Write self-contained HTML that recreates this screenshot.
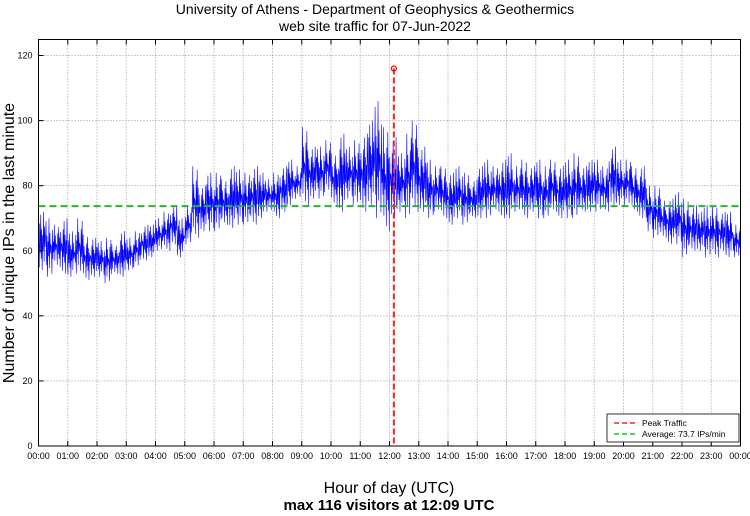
<!DOCTYPE html>
<html><head><meta charset="utf-8"><style>
body{margin:0;background:#fff;}
svg text{font-family:"Liberation Sans",sans-serif;}
</style></head><body>
<svg id="chart" width="750" height="511" xmlns="http://www.w3.org/2000/svg">
<text x="375" y="14" text-anchor="middle" font-size="14">University of Athens - Department of Geophysics &amp; Geothermics</text>
<text x="375" y="31" text-anchor="middle" font-size="14">web site traffic for 07-Jun-2022</text>
<text transform="translate(14,243) rotate(-90)" text-anchor="middle" font-size="16">Number of unique IPs in the last minute</text>
<text x="389" y="493" text-anchor="middle" font-size="16">Hour of day (UTC)</text>
<text x="389" y="510" text-anchor="middle" font-size="15" font-weight="bold">max 116 visitors at 12:09 UTC</text>
<g id="grid"></g><g id="series"></g><g id="overlay"></g><g id="axes"></g>
</svg>
<script>
const yTicks=[0,20,40,60,80,100,120];
const hourLabels=["00:00","01:00","02:00","03:00","04:00","05:00","06:00","07:00","08:00","09:00","10:00","11:00","12:00","13:00","14:00","15:00","16:00","17:00","18:00","19:00","20:00","21:00","22:00","23:00","00:00"];
const lowVals=[54,52,55,53, 52,53,51,52, 52,50,53,52, 54,55,57,58, 60,60,62,58, 62,64,66,66, 66,68,67,68, 68,68,70,72, 70,72,74,76, 74,76,76,78, 74,72,76,74, 72,74,70,66, 70,72,70,72, 72,70,72,70, 68,70,68,70, 70,70,72,70, 70,72,70,72, 70,70,72,70, 70,70,72,72, 72,72,74,74, 74,72,70,66, 64,64,62,62, 58,60,60,58, 58,60,58,58];
const highVals=[72,70,68,70, 66,70,65,64, 63,64,62,66, 64,66,68,68, 70,72,74,70, 74,86,80,84, 84,82,86,85, 84,86,84,82, 84,86,88,86, 98,92,92,94, 90,96,92,94, 96,100,106,98, 95,90,96,100, 92,88,86,86, 84,86,84,82, 86,88,86,88, 90,86,88,86, 88,86,88,86, 88,90,86,88, 88,86,92,88, 88,86,86,80, 80,76,76,78, 76,74,72,74, 74,72,72,68];
const stepMin=15;
const peakMinute=729, peakValue=116, avgValue=73.7;
const L=38.5,R=740.5,T=39.5,B=446;
const x=m=>L+m/1440*(R-L);
const y=v=>B-v*(446-55.5)/120;
const NS="http://www.w3.org/2000/svg";
function mk(tag,attrs,parent){const e=document.createElementNS(NS,tag);for(const k in attrs)e.setAttribute(k,attrs[k]);document.getElementById(parent).appendChild(e);return e;}
yTicks.forEach(v=>{
 if(v>0){const g=mk('line',{x1:L,x2:R,y1:y(v),y2:y(v),stroke:'#999','stroke-dasharray':'1,2','stroke-width':1},'grid');
 
 }
 const t=mk('text',{x:L-6,y:y(v)+3,'text-anchor':'end','font-size':9},'axes');t.textContent=v;
 
 
 mk('line',{x1:L,x2:L+5,y1:y(v),y2:y(v),stroke:'#000'},'axes');
});
hourLabels.forEach((s,i)=>{
 const xx=x(i*60);
 if(i>0&&i<24){const g=mk('line',{x1:xx,x2:xx,y1:T,y2:B,stroke:'#999','stroke-dasharray':'1,2'},'grid');
 
 }
 mk('line',{x1:xx,x2:xx,y1:B,y2:B-5,stroke:'#000'},'axes');
 mk('line',{x1:xx,x2:xx,y1:T,y2:T+5,stroke:'#000'},'axes');
 const t=mk('text',{x:xx,y:459,'text-anchor':'middle','font-size':9},'axes');t.textContent=s;
 
 
});
// fixed depth pattern (fraction of the low-high range) for sub-minute oscillation within each interval
const depth=[0.5,0.05,0.8,0.3,0.95,0.2,0.7,0.0,0.6,0.35,1.0,0.15,0.75,0.4,0.55];
let pts=[];
lowVals.forEach((lo,i)=>{
 const hi=highVals[i],m0=i*stepMin;
 for(let k=0;k<stepMin;k++){
  const d=depth[(k+i*4)%depth.length];
  pts.push([x(m0+k+0.5),y(lo+(hi-lo)*d)]);
 }
});
const line=mk('polyline',{points:pts.map(p=>p.join(',')).join(' '),fill:'none',stroke:'#0000ff','stroke-width':0.6},'series');


const avg=mk('line',{x1:L,x2:R,y1:y(avgValue),y2:y(avgValue),stroke:'#22bb22','stroke-width':2,'stroke-dasharray':'7,4'},'overlay');


const pk=mk('line',{x1:x(peakMinute),x2:x(peakMinute),y1:y(peakValue),y2:B,stroke:'#ff2222','stroke-width':2,'stroke-dasharray':'6,3'},'overlay');


const pc=mk('circle',{cx:x(peakMinute),cy:y(peakValue),r:2.5,fill:'none',stroke:'#ff0000','stroke-width':1.2},'overlay');


const fr=mk('rect',{x:L,y:T,width:R-L,height:B-T,fill:'none',stroke:'#000','stroke-width':1},'axes');


const lg=mk('rect',{x:607,y:414,width:132,height:28,fill:'#fff',stroke:'#000','stroke-width':0.8},'axes');


mk('line',{x1:614,x2:638,y1:423,y2:423,stroke:'#ff2222','stroke-width':1.5,'stroke-dasharray':'5,3'},'axes');
mk('line',{x1:614,x2:638,y1:434,y2:434,stroke:'#22bb22','stroke-width':1.5,'stroke-dasharray':'5,3'},'axes');
const l1=mk('text',{x:642,y:426,'font-size':8.5},'axes');l1.textContent='Peak Traffic';


const l2=mk('text',{x:642,y:437,'font-size':8.5},'axes');l2.textContent='Average: 73.7 IPs/min';


</script>
</body></html>
